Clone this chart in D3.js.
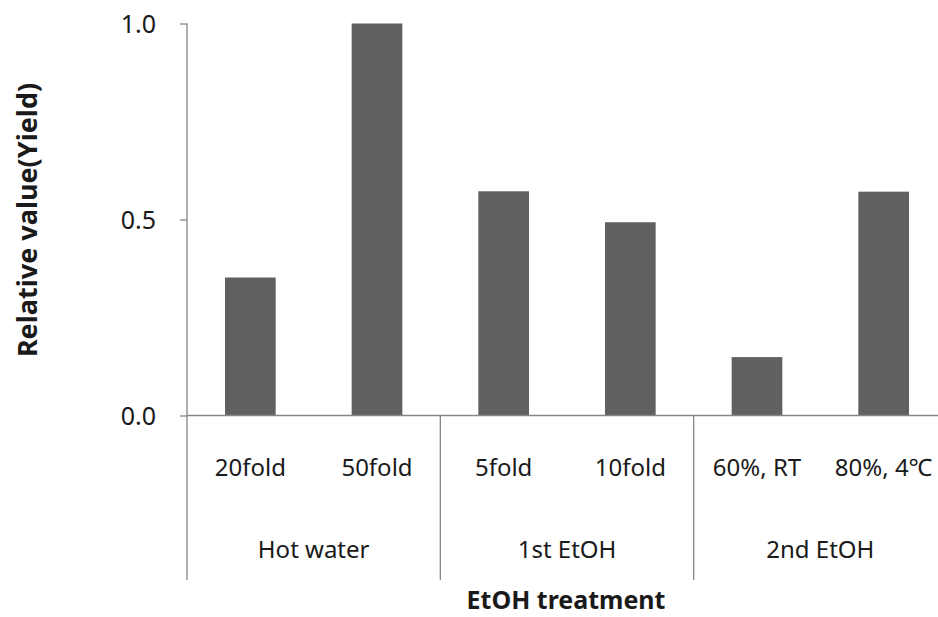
<!DOCTYPE html>
<html>
<head>
<meta charset="utf-8">
<script src="https://cdn.jsdelivr.net/npm/d3@7"></script>
<style>
  html, body { margin: 0; padding: 0; background: #fff; }
  svg { display: block; }
  text { font-family: "Noto Sans", "Noto Sans CJK KR", sans-serif; fill: #1a1a1a; }
</style>
</head>
<body>
<svg id="chart" width="938" height="617"></svg>
<script>
// ---- data ----
const categories = ["20fold", "50fold", "5fold", "10fold", "60%, RT", "80%, 4\u2103"];
const categoryGroups = ["Hot water", "Hot water", "1st EtOH", "1st EtOH", "2nd EtOH", "2nd EtOH"];
const groups = ["Hot water", "1st EtOH", "2nd EtOH"];
const values = [0.352, 1.0, 0.572, 0.493, 0.149, 0.571];
const yTicks = [0.0, 0.5, 1.0];
const yTitle = "Relative value(Yield)";
const xTitle = "EtOH treatment";

// ---- layout ----
const svg = d3.select("#chart");
const plotLeft = 187, plotRight = 947, plotTop = 23.5, plotBase = 415.5, bottomLine = 580;

const y = d3.scaleLinear().domain([0, 1]).range([plotBase, plotTop]);
const x = d3.scaleBand().domain(categories).range([plotLeft, plotRight])
  .paddingInner(0.6).paddingOuter(0.3);
const g = d3.scaleBand().domain(groups).range([plotLeft, plotRight]);

const axisColor = "#868686";

// y axis
const yAxis = d3.axisLeft(y).tickValues(yTicks).tickSize(7).tickPadding(24)
  .tickFormat(d3.format(".1f"));
const ya = svg.append("g").attr("transform", `translate(${plotLeft},0)`).call(yAxis);
ya.select(".domain").remove();
ya.selectAll(".tick line").attr("stroke", axisColor).attr("stroke-width", 1.3);
ya.selectAll(".tick text").attr("font-size", 25).attr("fill", "#1a1a1a")
  .attr("font-family", "'Noto Sans', sans-serif").attr("dy", "0.34em");

// vertical axis line (extends to bottom of group area)
svg.append("line").attr("x1", plotLeft).attr("x2", plotLeft).attr("y1", plotTop).attr("y2", bottomLine)
  .attr("stroke", axisColor).attr("stroke-width", 1.3);

// bars
svg.append("g").selectAll("rect").data(categories).join("rect")
  .attr("x", d => x(d))
  .attr("width", x.bandwidth())
  .attr("y", (d, i) => y(values[i]))
  .attr("height", (d, i) => y(0) - y(values[i]))
  .attr("fill", "#606060");

// x axis baseline
svg.append("line").attr("x1", plotLeft).attr("x2", plotRight).attr("y1", y(0)).attr("y2", y(0))
  .attr("stroke", axisColor).attr("stroke-width", 1.3);

// group separators
svg.append("g").selectAll("line").data(groups).join("line")
  .attr("x1", d => g(d) + g.bandwidth()).attr("x2", d => g(d) + g.bandwidth())
  .attr("y1", y(0)).attr("y2", bottomLine)
  .attr("stroke", axisColor).attr("stroke-width", 1.3);

// category labels
svg.append("g").selectAll("text").data(categories).join("text")
  .attr("x", d => x(d) + x.bandwidth() / 2)
  .attr("y", 476)
  .attr("text-anchor", "middle")
  .attr("font-size", 24)
  .text(d => d);

// group labels
svg.append("g").selectAll("text").data(groups).join("text")
  .attr("x", d => g(d) + g.bandwidth() / 2)
  .attr("y", 558)
  .attr("text-anchor", "middle")
  .attr("font-size", 24)
  .text(d => d);

// x title
svg.append("text")
  .attr("x", (plotLeft + plotRight) / 2 - 1)
  .attr("y", 609)
  .attr("text-anchor", "middle")
  .attr("font-size", 25)
  .attr("font-weight", "bold")
  .attr("fill", "#000")
  .text(xTitle);

// y title
svg.append("text")
  .attr("transform", `translate(37,220) rotate(-90)`)
  .attr("text-anchor", "middle")
  .attr("font-size", 27)
  .attr("font-weight", "bold")
  .attr("fill", "#000")
  .text(yTitle);
</script>
</body>
</html>
